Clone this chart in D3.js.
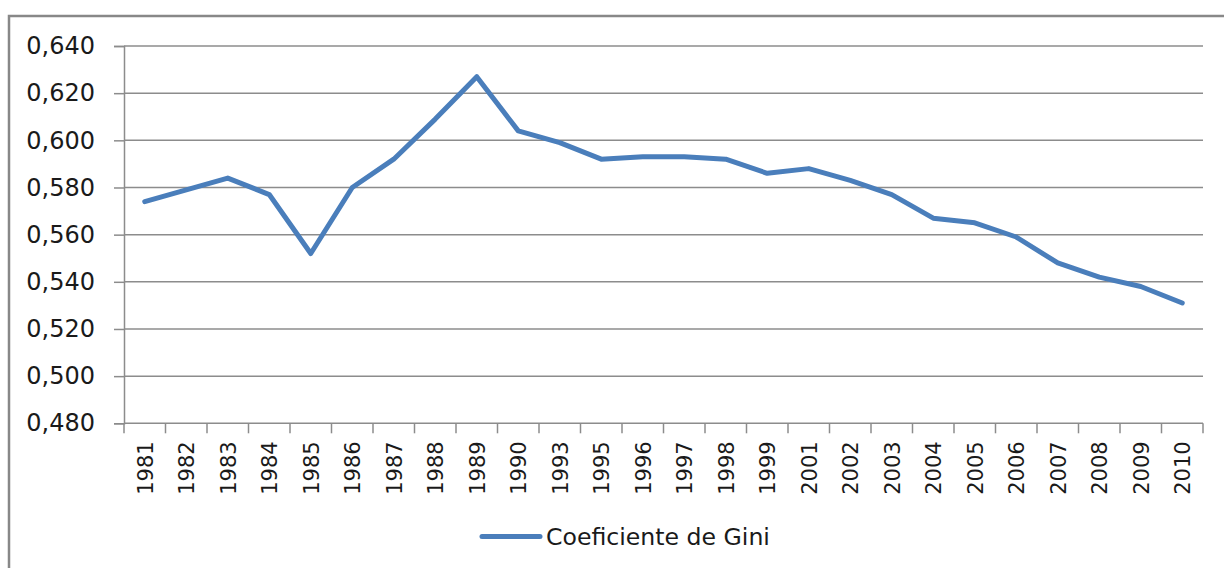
<!DOCTYPE html>
<html>
<head>
<meta charset="utf-8">
<script src="https://cdn.jsdelivr.net/npm/d3@7"></script>
<style>
  body { margin: 0; background: #fff; }
  svg { display: block; }
  text { font-family: "DejaVu Sans", Verdana, sans-serif; fill: #1a1a1a; }
</style>
</head>
<body>
<svg width="1224" height="568"></svg>
<script>
var years = ['1981', '1982', '1983', '1984', '1985', '1986', '1987', '1988', '1989', '1990',
  '1993', '1995', '1996', '1997', '1998', '1999', '2001', '2002', '2003', '2004',
  '2005', '2006', '2007', '2008', '2009', '2010'];
var gini = [0.574, 0.579, 0.584, 0.577, 0.552, 0.580, 0.592, 0.609, 0.627, 0.604,
  0.599, 0.592, 0.593, 0.593, 0.592, 0.586, 0.588, 0.583, 0.577, 0.567,
  0.565, 0.559, 0.548, 0.542, 0.538, 0.531];
var yTicks = [0.480, 0.500, 0.520, 0.540, 0.560, 0.580, 0.600, 0.620, 0.640];
var seriesName = 'Coeficiente de Gini';

var svg = d3.select('svg');
var gridColor = '#8c8c8c';
var lineColor = '#4a7ebb';

// outer chart frame (right and bottom edges fall outside the picture)
svg.append('rect')
  .attr('x', 9).attr('y', 16)
  .attr('width', 1240).attr('height', 600)
  .attr('fill', 'none')
  .attr('stroke', '#888')
  .attr('stroke-width', 2.5);

var plot = { left: 124, right: 1203, top: 46, bottom: 423.3 };

var xScale = d3.scaleBand()
  .domain(years)
  .range([plot.left, plot.right]);
var yScale = d3.scaleLinear()
  .domain([0.480, 0.640])
  .range([plot.bottom, plot.top]);

var fmt = function(d) { return d3.format('.3f')(d).replace('.', ','); };

// horizontal gridlines
svg.selectAll('.grid')
  .data(yTicks.slice(1))
  .enter()
  .append('line')
  .attr('class', 'grid')
  .attr('x1', plot.left)
  .attr('x2', plot.right)
  .attr('y1', function(d) { return yScale(d); })
  .attr('y2', function(d) { return yScale(d); })
  .attr('stroke', gridColor)
  .attr('stroke-width', 1.5);

// y axis
var yAxis = svg.append('g')
  .attr('transform', 'translate(' + plot.left + ',0)')
  .call(d3.axisLeft(yScale).tickValues(yTicks).tickFormat(fmt).tickSize(10).tickPadding(19));
yAxis.select('.domain').attr('stroke', gridColor).attr('stroke-width', 1.5);
yAxis.selectAll('.tick line').attr('stroke', gridColor).attr('stroke-width', 1.5);
yAxis.selectAll('.tick text')
  .attr('font-size', 24)
  .attr('font-family', '"DejaVu Sans", sans-serif')
  .attr('fill', '#1a1a1a');

// x axis: ticks between categories
var xAxisG = svg.append('g')
  .attr('transform', 'translate(0,' + plot.bottom + ')');
xAxisG.append('line')
  .attr('x1', plot.left).attr('x2', plot.right)
  .attr('stroke', gridColor).attr('stroke-width', 1.5);
var bounds = years.map(function(d) { return xScale(d); }).concat([plot.right]);
xAxisG.selectAll('.xtick')
  .data(bounds)
  .enter()
  .append('line')
  .attr('x1', function(d) { return d; })
  .attr('x2', function(d) { return d; })
  .attr('y1', 0).attr('y2', 10)
  .attr('stroke', gridColor).attr('stroke-width', 1.5);
xAxisG.selectAll('.xlabel')
  .data(years)
  .enter()
  .append('text')
  .attr('transform', function(d) {
    return 'translate(' + (xScale(d) + xScale.bandwidth() / 2 + 8) + ',18) rotate(-90)';
  })
  .attr('text-anchor', 'end')
  .attr('font-size', 21)
  .text(function(d) { return d; });

// the series line
var line = d3.line()
  .x(function(d, i) { return xScale(years[i]) + xScale.bandwidth() / 2; })
  .y(function(d) { return yScale(d); });
svg.append('path')
  .datum(gini)
  .attr('d', line)
  .attr('fill', 'none')
  .attr('stroke', lineColor)
  .attr('stroke-width', 5)
  .attr('stroke-linejoin', 'round')
  .attr('stroke-linecap', 'round');

// legend
var legend = svg.append('g');
legend.append('line')
  .attr('x1', 482).attr('x2', 540)
  .attr('y1', 536.5).attr('y2', 536.5)
  .attr('stroke', lineColor)
  .attr('stroke-width', 5)
  .attr('stroke-linecap', 'round');
legend.append('text')
  .attr('x', 546).attr('y', 545)
  .attr('font-size', 23.6)
  .text(seriesName);
</script>
</body>
</html>
